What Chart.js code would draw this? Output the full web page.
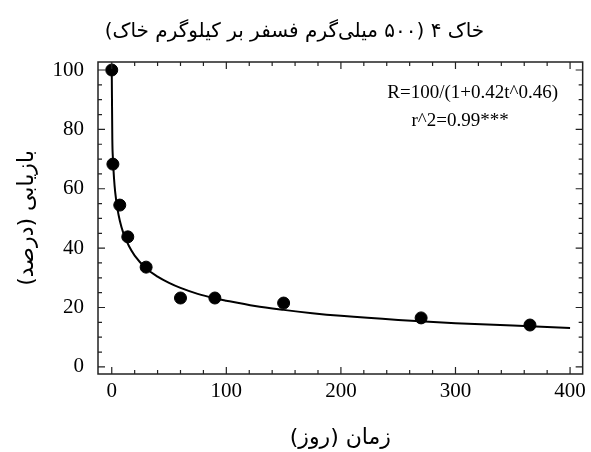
<!DOCTYPE html>
<html>
<head>
<meta charset="utf-8">
<script src="https://cdn.jsdelivr.net/npm/chart.js@4/dist/chart.umd.min.js"></script>
<style>
  html, body { margin: 0; padding: 0; background: #fff; }
  #wrap { width: 591px; height: 452px; }
</style>
</head>
<body>
<div id="wrap"><canvas id="chart" width="591" height="452"></canvas></div>
<script>
// measured points (day, recovery %)
const days = [0, 1, 7, 14, 30, 60, 90, 150, 270, 365];
const recovery = [100, 68.3, 54.5, 43.8, 33.6, 23.2, 23.2, 21.5, 16.5, 14.1];

// fitted curve
const fitDays = [0, 0.5, 1, 2, 3, 5, 7, 10, 15, 20, 30, 40, 50, 60, 75, 90, 100, 125, 150, 175, 200, 250, 300, 350, 400];
const fitRecovery = [100, 76.6, 70.4, 63.4, 58.9, 53.2, 49.3, 45.2, 40.7, 37.5, 33.2, 30.4, 28.3, 26.6, 24.6, 23.1, 22.3, 20.5, 19.2, 18.1, 17.2, 15.8, 14.7, 13.9, 13.1];

// ticks
const xTicks = [0, 100, 200, 300, 400];
const xMinor = [20, 40, 60, 80, 120, 140, 160, 180, 220, 240, 260, 280, 320, 340, 360, 380];
const yTicks = [0, 20, 40, 60, 80, 100];
const yMinor = [5, 10, 15, 25, 30, 35, 45, 50, 55, 65, 70, 75, 85, 90, 95];

const titleText = "خاک ۴ (۵۰۰ میلی‌گرم فسفر بر کیلوگرم خاک)";
const xTitle = "زمان (روز)";
const yTitle = "بازیابی (درصد)";
const eqLines = ["R=100/(1+0.42t^0.46)", "r^2=0.99***"];

const serif = "'Liberation Serif', 'Times New Roman', serif";
const persian = "'DejaVu Sans', sans-serif";

// box frame with inward ticks on all four sides
const framePlugin = {
  id: "frame",
  afterDatasetsDraw(chart) {
    const { ctx, chartArea: a, scales } = chart;
    const x = scales.x, y = scales.y;
    ctx.save();
    ctx.strokeStyle = "#222";
    ctx.lineWidth = 1.5;
    ctx.strokeRect(a.left, a.top, a.right - a.left, a.bottom - a.top);
    ctx.lineWidth = 1.2;
    ctx.beginPath();
    const tickX = (list, len) => list.forEach(v => {
      const px = x.getPixelForValue(v);
      ctx.moveTo(px, a.bottom); ctx.lineTo(px, a.bottom - len);
      ctx.moveTo(px, a.top); ctx.lineTo(px, a.top + len);
    });
    const tickY = (list, len) => list.forEach(v => {
      const py = y.getPixelForValue(v);
      ctx.moveTo(a.left, py); ctx.lineTo(a.left + len, py);
      ctx.moveTo(a.right, py); ctx.lineTo(a.right - len, py);
    });
    tickX(xTicks, 7); tickX(xMinor, 4);
    tickY(yTicks, 7); tickY(yMinor, 4);
    ctx.stroke();

    // equation text
    ctx.fillStyle = "#000";
    ctx.font = "19px " + serif;
    ctx.textAlign = "center";
    ctx.textBaseline = "middle";
    ctx.fillText(eqLines[0], x.getPixelForValue(315), y.getPixelForValue(92.3));
    ctx.fillText(eqLines[1], x.getPixelForValue(304), y.getPixelForValue(82.8));
    ctx.restore();
  }
};

new Chart(document.getElementById("chart"), {
  type: "scatter",
  data: {
    datasets: [
      {
        label: "points",
        data: days.map((d, i) => ({ x: d, y: recovery[i] })),
        backgroundColor: "#000",
        borderColor: "#000",
        pointRadius: 6,
        pointHoverRadius: 6,
        order: 0,
      },
      {
        label: "fit",
        data: fitDays.map((d, i) => ({ x: d, y: fitRecovery[i] })),
        showLine: true,
        borderColor: "#000",
        borderWidth: 2,
        pointRadius: 0,
        cubicInterpolationMode: "monotone",
        order: 1,
      },
    ],
  },
  options: {
    responsive: false,
    animation: false,
    devicePixelRatio: 1,
    layout: { padding: { left: 0, right: 2, top: 0, bottom: 0 } },
    plugins: {
      legend: { display: false },
      tooltip: { enabled: false },
      title: {
        display: true,
        text: titleText,
        color: "#000",
        font: { family: persian, size: 20, weight: "normal" },
        padding: { top: 20, bottom: 18 },
      },
    },
    scales: {
      x: {
        type: "linear",
        min: -12,
        max: 411,
        afterBuildTicks: s => { s.ticks = xTicks.map(v => ({ value: v })); },
        afterFit: s => { s.height = 78; },
        grid: { display: false, drawTicks: false },
        border: { display: false },
        ticks: { color: "#000", padding: 5, maxRotation: 0, font: { family: serif, size: 21 } },
        title: {
          display: true,
          text: xTitle,
          color: "#000",
          font: { family: persian, size: 22 },
          padding: { top: 0, bottom: 1 },
        },
      },
      y: {
        type: "linear",
        min: -2.4,
        max: 102.7,
        afterBuildTicks: s => { s.ticks = yTicks.map(v => ({ value: v })); },
        afterFit: s => { s.width = 98; },
        grid: { display: false, drawTicks: false },
        border: { display: false },
        ticks: { color: "#000", padding: 14, font: { family: serif, size: 21 } },
        title: {
          display: true,
          text: yTitle,
          color: "#000",
          font: { family: persian, size: 22 },
          padding: { top: 14, bottom: 0 },
        },
      },
    },
  },
  plugins: [framePlugin],
});
</script>
</body>
</html>
